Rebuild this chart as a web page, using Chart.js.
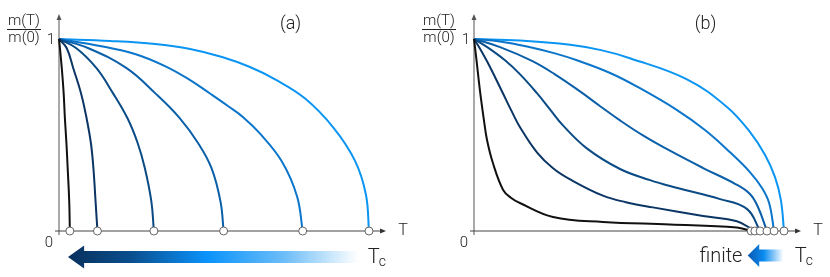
<!DOCTYPE html>
<html>
<head>
<meta charset="utf-8">
<script src="https://cdn.jsdelivr.net/npm/chart.js@4.4.1/dist/chart.umd.min.js"></script>
<style>
  html, body { margin: 0; padding: 0; background: #fff; }
  #wrap { position: relative; width: 830px; height: 277px; }
  .panel { position: absolute; top: 0; width: 415px; height: 277px; }
</style>
</head>
<body>
<div id="wrap">
  <div class="panel" style="left:0"><canvas id="chart-a" width="415" height="277"></canvas></div>
  <div class="panel" style="left:415px"><canvas id="chart-b" width="415" height="277"></canvas></div>
</div>
<script>
// T / Tc(max) e m(T)/m(0)

// painel (a): Tc diminui, curva mantém a forma
const aT1 = [0, 0.003, 0.009, 0.015, 0.019, 0.024, 0.028, 0.033, 0.035];
const aM1 = [1, 0.952, 0.848, 0.718, 0.587, 0.457, 0.327, 0.153, 0];
const aT2 = [0, 0.025, 0.046, 0.071, 0.089, 0.103, 0.111, 0.118, 0.124];
const aM2 = [1, 0.952, 0.848, 0.718, 0.587, 0.457, 0.327, 0.153, 0];
const aT3 = [0, 0.056, 0.121, 0.174, 0.221, 0.254, 0.277, 0.298, 0.306];
const aM3 = [1, 0.952, 0.848, 0.718, 0.587, 0.457, 0.327, 0.153, 0];
const aT4 = [0, 0.095, 0.218, 0.310, 0.390, 0.449, 0.492, 0.521, 0.531];
const aM4 = [1, 0.952, 0.848, 0.718, 0.587, 0.457, 0.327, 0.153, 0];
const aT5 = [0, 0.132, 0.245, 0.342, 0.423, 0.487, 0.545, 0.594, 0.648, 0.719, 0.768, 0.786];
const aM5 = [1, 0.964, 0.922, 0.859, 0.786, 0.716, 0.651, 0.593, 0.508, 0.362, 0.180, 0];
const aT6 = [0, 0.165, 0.310, 0.423, 0.526, 0.616, 0.697, 0.794, 0.887, 0.955, 0.990, 1.0];
const aM6 = [1, 0.990, 0.974, 0.948, 0.906, 0.854, 0.790, 0.690, 0.535, 0.365, 0.190, 0];
const aTc = [0.035, 0.124, 0.306, 0.531, 0.786, 1.0];

// painel (b): Tc quase fixo, a curva muda de forma
const bT1 = [0, 0.008, 0.019, 0.032, 0.042, 0.061, 0.094, 0.120, 0.148, 0.255, 0.416, 0.632, 0.848, 0.894];
const bM1 = [1, 0.891, 0.734, 0.578, 0.474, 0.354, 0.214, 0.172, 0.146, 0.073, 0.047, 0.034, 0.018, 0];
const bT2 = [0, 0.019, 0.042, 0.068, 0.094, 0.123, 0.148, 0.203, 0.255, 0.310, 0.416, 0.490, 0.577, 0.739, 0.848, 0.906];
const bM2 = [1, 0.951, 0.884, 0.801, 0.715, 0.619, 0.542, 0.410, 0.327, 0.269, 0.184, 0.150, 0.123, 0.078, 0.051, 0];
const bT3 = [0, 0.045, 0.100, 0.148, 0.203, 0.245, 0.287, 0.365, 0.471, 0.568, 0.632, 0.794, 0.881, 0.923];
const bM3 = [1, 0.955, 0.889, 0.817, 0.718, 0.634, 0.550, 0.429, 0.323, 0.265, 0.234, 0.166, 0.114, 0];
const bT4 = [0, 0.084, 0.187, 0.261, 0.342, 0.407, 0.471, 0.545, 0.632, 0.739, 0.842, 0.890, 0.916, 0.945];
const bM4 = [1, 0.958, 0.886, 0.816, 0.727, 0.650, 0.576, 0.498, 0.418, 0.328, 0.246, 0.193, 0.125, 0];
const bT5 = [0, 0.084, 0.171, 0.261, 0.332, 0.439, 0.526, 0.655, 0.745, 0.826, 0.890, 0.929, 0.952, 0.968];
const bM5 = [1, 0.987, 0.961, 0.925, 0.889, 0.823, 0.752, 0.630, 0.526, 0.410, 0.307, 0.224, 0.146, 0];
const bT6 = [0, 0.148, 0.310, 0.410, 0.503, 0.687, 0.816, 0.890, 0.939, 0.971, 0.990, 1.0];
const bM6 = [1, 0.992, 0.970, 0.942, 0.900, 0.790, 0.646, 0.516, 0.396, 0.281, 0.161, 0];
const bTc = [0.894, 0.906, 0.923, 0.945, 0.968, 1.0];

const CORES = ['#111111', '#0a3564', '#0a4b86', '#0a5fa8', '#0a75ca', '#0b95f2'];
const FONTE = 'Roboto, "Liberation Sans", Arial, sans-serif';
const TEXTO = '#222';

function pontos(t, m) { return t.map((v, i) => ({ x: v, y: m[i] })); }

function seta(ctx, x, y, dir) {
  ctx.beginPath();
  if (dir === 'up') { ctx.moveTo(x, y); ctx.lineTo(x - 2.5, y + 6); ctx.lineTo(x + 2.5, y + 6); }
  else { ctx.moveTo(x, y); ctx.lineTo(x - 6, y - 2.5); ctx.lineTo(x - 6, y + 2.5); }
  ctx.closePath();
  ctx.fill();
}

function setaGrossa(ctx, xTip, xHead, xTail, yc, stops) {
  const g = ctx.createLinearGradient(xTip, 0, xTail, 0);
  stops.forEach(s => g.addColorStop(s[0], s[1]));
  ctx.fillStyle = g;
  ctx.beginPath();
  ctx.moveTo(xTip, yc);
  ctx.lineTo(xHead, yc - 11.5);
  ctx.lineTo(xHead, yc - 6);
  ctx.lineTo(xTail, yc - 6);
  ctx.lineTo(xTail, yc + 6);
  ctx.lineTo(xHead, yc + 6);
  ctx.lineTo(xHead, yc + 11.5);
  ctx.closePath();
  ctx.fill();
}

function tc(ctx, x, y) {
  ctx.textAlign = 'left';
  ctx.textBaseline = 'alphabetic';
  ctx.font = '300 20px ' + FONTE;
  ctx.fillText('T', x, y);
  const w = ctx.measureText('T').width;
  ctx.font = '300 14px ' + FONTE;
  ctx.fillText('c', x + w - 1, y + 3);
}

function plugin(painel) {
  return {
    id: 'eixos-' + painel,
    beforeDatasetsDraw(chart) {
      const { ctx, scales: { x, y } } = chart;
      const x0 = x.getPixelForValue(0), y0 = y.getPixelForValue(0);
      const xEnd = x.getPixelForValue(1.055), yTop = y.getPixelForValue(1.13);
      ctx.save();
      ctx.strokeStyle = '#8c8c8c'; ctx.fillStyle = '#555'; ctx.lineWidth = 1.5;
      ctx.beginPath(); ctx.moveTo(x0, y0 + 4); ctx.lineTo(x0, yTop + 5); ctx.stroke();
      seta(ctx, x0, yTop, 'up');
      ctx.strokeStyle = '#444'; ctx.fillStyle = '#333'; ctx.lineWidth = 1;
      ctx.beginPath(); ctx.moveTo(x0 - 4, y0); ctx.lineTo(xEnd - 5, y0); ctx.stroke();
      seta(ctx, xEnd, y0, 'right');
      ctx.restore();
    },
    afterDraw(chart) {
      const { ctx, scales: { x, y } } = chart;
      const x0 = x.getPixelForValue(0), y0 = y.getPixelForValue(0), y1 = y.getPixelForValue(1);
      const xEnd = x.getPixelForValue(1.055);
      ctx.save();
      ctx.fillStyle = TEXTO;
      ctx.strokeStyle = TEXTO;
      ctx.font = '300 15px ' + FONTE;
      ctx.textAlign = 'center';
      ctx.textBaseline = 'alphabetic';
      ctx.fillText('m(T)', x0 - 35, 25);
      ctx.fillText('m(0)', x0 - 35, 42);
      ctx.lineWidth = 1;
      ctx.beginPath(); ctx.moveTo(x0 - 52, 29.5); ctx.lineTo(x0 - 18, 29.5); ctx.stroke();
      ctx.textBaseline = 'middle';
      ctx.textAlign = 'right';
      ctx.fillText('1', x0 - 4, y1 + 1);
      ctx.textAlign = 'center';
      ctx.fillText('0', x0 - 10, y0 + 12);
      ctx.font = '300 16px ' + FONTE;
      ctx.fillText('T', xEnd + 17, y0);
      ctx.font = '300 18px ' + FONTE;
      ctx.fillText(painel === 'a' ? '(a)' : '(b)', x.getPixelForValue(0.747), 24);

      if (painel === 'a') {
        setaGrossa(ctx, x.getPixelForValue(0.029), x.getPixelForValue(0.081), x.getPixelForValue(0.965), y0 + 26,
          [[0, '#08305c'], [0.22, '#0a4f8f'], [0.48, '#0a93fb'], [0.75, '#6fbef8'], [1, '#ffffff']]);
        ctx.fillStyle = TEXTO;
        tc(ctx, x.getPixelForValue(0.996), y0 + 31.5);
      } else {
        setaGrossa(ctx, x.getPixelForValue(0.883), x.getPixelForValue(0.92), x.getPixelForValue(0.998), y0 + 24.5,
          [[0, '#0a58b0'], [0.45, '#0a8cf0'], [1, '#ffffff']]);
        ctx.fillStyle = TEXTO;
        ctx.font = '300 20px ' + FONTE;
        ctx.textAlign = 'right';
        ctx.textBaseline = 'alphabetic';
        ctx.fillText('finite', x.getPixelForValue(0.866), y0 + 31);
        tc(ctx, x.getPixelForValue(1.035), y0 + 31);
      }
      ctx.restore();
    }
  };
}

function montar(id, painel, curvas, tcs) {
  const datasets = curvas.map((c, i) => ({
    data: pontos(c[0], c[1]),
    borderColor: CORES[i],
    borderWidth: 2,
    pointRadius: 0,
    tension: 0.4,
    fill: false,
    clip: false,
    order: 2
  }));
  datasets.push({
    type: 'scatter',
    data: tcs.map(v => ({ x: v, y: 0 })),
    pointRadius: 4,
    pointBackgroundColor: '#ffffff',
    pointBorderColor: '#666666',
    pointBorderWidth: 1,
    showLine: false,
    clip: false,
    order: 0
  });
  return new Chart(document.getElementById(id), {
    type: 'line',
    data: { datasets },
    options: {
      responsive: false,
      animation: false,
      devicePixelRatio: 1,
      layout: { padding: { left: 59, right: 15, top: 10.2, bottom: 46 } },
      scales: {
        x: { type: 'linear', min: 0, max: 1.1, display: false },
        y: { type: 'linear', min: 0, max: 1.15, display: false }
      },
      plugins: { legend: { display: false }, tooltip: { enabled: false } }
    },
    plugins: [plugin(painel)]
  });
}

montar('chart-a', 'a', [[aT1, aM1], [aT2, aM2], [aT3, aM3], [aT4, aM4], [aT5, aM5], [aT6, aM6]], aTc);
montar('chart-b', 'b', [[bT1, bM1], [bT2, bM2], [bT3, bM3], [bT4, bM4], [bT5, bM5], [bT6, bM6]], bTc);
</script>
</body>
</html>
